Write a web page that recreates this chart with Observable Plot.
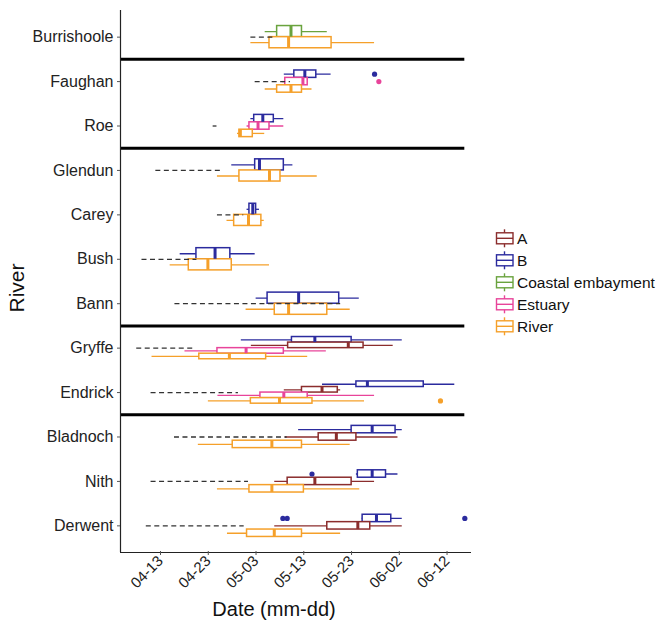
<!DOCTYPE html>
<html><head><meta charset="utf-8">
<script src="https://cdn.jsdelivr.net/npm/d3@7"></script>
<script src="https://cdn.jsdelivr.net/npm/@observablehq/plot@0.6"></script>
<style>
body{margin:0;background:#fff;font-family:"Liberation Sans",Arial,sans-serif;}
#wrap{position:relative;width:659px;height:625px;overflow:hidden;}
#legend{position:absolute;left:488px;top:222px;}
</style></head><body><div id="wrap"><div id="chart"></div><svg id="legend" width="171" height="115"></svg></div>
<script>
// ---- data (dates as day-of-year; 103 = 04-13) ----
const rivers = ["Burrishoole","Faughan","Roe","Glendun","Carey","Bush","Bann","Gryffe","Endrick","Bladnoch","Nith","Derwent"];
const groups = ["A","B","Coastal embayment","Estuary","River"];
const dodgeOrder = ["B","A","Coastal embayment","Estuary","River"];
const groupColors = ["#8B2D2D","#2B2B9E","#6AA33E","#E8449A","#F5A02A"];
// [lower whisker, Q1, median, Q3, upper whisker] per river
const statsA = [null,null,null,null,null,null,null,
  [126.0,133.7,146.3,149.5,155.7],
  [132.9,136.6,140.8,144.1,144.7],
  [133.1,140.1,143.8,148.0,156.7],
  [130.9,133.6,139.3,147.0,151.8],
  [130.9,141.9,148.3,150.9,157.6]];
const statsB = [null,
  [132.9,135.0,137.2,139.6,142.7],
  [125.9,126.6,128.4,130.7,132.8],
  [121.9,126.8,127.7,132.8,134.7],
  [125.1,125.6,126.3,127.0,127.7],
  [111.1,114.5,118.4,121.6,126.8],
  [127.0,129.4,135.9,144.4,148.6],
  [123.9,134.5,139.3,147.0,157.6],
  [140.9,148.0,150.3,162.1,168.6],
  [135.9,147.0,151.3,156.2,157.6],
  [148.0,148.3,151.3,154.2,156.7],
  [149.2,149.3,152.2,155.3,157.6]];
const statsCoastal = [[128.9,131.4,134.3,136.6,141.9],null,null,null,null,null,null,null,null,null,null,null];
const statsEstuary = [null,
  [132.5,133.1,136.8,137.8,137.8],
  [125.1,125.6,127.4,129.8,132.8],
  null,null,null,null,
  [112.1,118.9,124.9,132.8,141.7],
  [119.0,127.9,132.8,137.8,151.8],
  null,null,null];
const statsRiver = [
  [125.9,129.8,133.8,142.8,151.8],
  [128.9,131.4,134.3,136.6,138.7],
  [123.1,123.5,123.7,126.3,128.8],
  [118.9,123.5,129.8,132.1,139.8],
  [120.9,122.4,125.4,128.1,128.7],
  [109.0,112.9,116.9,121.9,129.8],
  [124.9,130.9,133.8,141.9,146.7],
  [105.2,115.1,121.4,129.1,137.8],
  [117.0,125.9,131.9,138.8,149.7],
  [114.9,122.1,130.3,136.6,146.7],
  [118.9,125.6,130.3,137.0,148.7],
  [121.0,125.1,130.8,136.6,144.7]];
const outlierRiver = ["Faughan","Faughan","Endrick","Nith","Derwent","Derwent","Derwent"];
const outlierGroup = ["B","Estuary","River","B","B","B","B"];
const outlierDay = [151.8,152.7,165.6,138.7,132.6,133.5,170.7];
const dashStart = [125.9,126.8,118.0,106.0,118.9,103.1,110.0,102.0,105.0,109.9,105.0,104.0];
const dashEnd   = [130.7,134.2,118.8,119.8,124.4,114.6,144.7,113.9,123.3,133.5,125.4,124.5];
const sectionEnds = ["Burrishoole","Roe","Bann","Endrick"];
const xTicks = [103,113,123,133,143,153,163];
const xDomain = [98.6,172.1];
const separatorEnd = 170.7;

// ---- build tables ----
const statsByGroup = {"A":statsA,"B":statsB,"Coastal embayment":statsCoastal,"Estuary":statsEstuary,"River":statsRiver};
const boxes = [];
rivers.forEach((r,i)=>{
  const present = dodgeOrder.filter(g=>statsByGroup[g][i]);
  const n = present.length;
  present.forEach((g,j)=>{
    const [lo,q1,med,q3,hi] = statsByGroup[g][i];
    const yc = i - 0.25 + (j+0.5)*0.5/n, h = 0.25/n;
    boxes.push({river:r,group:g,lo,q1,med,q3,hi,y:yc,y1:yc-h,y2:yc+h});
  });
});
const outliers = outlierDay.map((d,k)=>{
  const b = boxes.find(b=>b.river===outlierRiver[k] && b.group===outlierGroup[k]);
  return {x:d, y:b.y, group:outlierGroup[k]};
});
const dashes = rivers.map((r,i)=>({y:i,x1:dashStart[i],x2:dashEnd[i]}));
const seps = sectionEnds.map(r=>({y:rivers.indexOf(r)+0.5}));
const fmt = d => d3.utcFormat("%m-%d")(new Date(Date.UTC(2021,0,d)));

const plot = Plot.plot({
  width:488, height:625,
  marginLeft:120, marginRight:17, marginTop:10, marginBottom:73,
  x:{domain:xDomain, range:[120,471]},
  y:{domain:[-0.6,11.6], range:[10,552]},
  color:{domain:groups, range:groupColors},
  style:{fontFamily:"'Liberation Sans', Arial, sans-serif", background:"white", color:"#222", overflow:"visible"},
  marks:[
    Plot.ruleY(seps,{y:"y", x1:xDomain[0], x2:separatorEnd, stroke:"black", strokeWidth:3}),
    Plot.ruleY(boxes,{y:"y", x1:"lo", x2:"hi", stroke:"group", strokeWidth:1.3}),
    Plot.rect(boxes,{x1:"q1", x2:"q3", y1:"y1", y2:"y2", fill:"white", stroke:"group", strokeWidth:1.5}),
    Plot.ruleX(boxes,{x:"med", y1:"y1", y2:"y2", stroke:"group", strokeWidth:3}),
    Plot.ruleY(dashes,{y:"y", x1:"x1", x2:"x2", stroke:"#333", strokeWidth:1.3, strokeDasharray:"5,3.5"}),
    Plot.dot(outliers,{x:"x", y:"y", fill:"group", r:2.6}),
    Plot.ruleX([xDomain[0]],{y1:-0.6, y2:11.6, stroke:"#222", strokeWidth:1.2}),
    Plot.ruleY([11.6],{x1:xDomain[0], x2:xDomain[1], stroke:"#222", strokeWidth:1.2}),
    Plot.axisY({ticks:d3.range(rivers.length), tickFormat:i=>rivers[i], tickSize:3, tickPadding:4, fontSize:16, label:null, stroke:"#555"}),
    Plot.axisX({ticks:xTicks, tickFormat:fmt, tickSize:4, tickPadding:3, tickRotate:-45, fontSize:15, label:null, dx:19, dy:-1, stroke:"#555"})
  ]
});
const svg = d3.select(plot);
svg.append("text").attr("x",274).attr("y",616).attr("text-anchor","middle")
  .attr("font-size",20).attr("fill","#111").text("Date (mm-dd)");
svg.append("text").attr("transform","translate(24,288) rotate(-90)").attr("text-anchor","middle")
  .attr("font-size",21).attr("fill","#111").text("River");
document.getElementById("chart").appendChild(plot);

// ---- legend ----
const lg = d3.select("#legend");
const color = plot.scale("color");
groups.forEach((g,k)=>{
  const cy = 16.3 + k*22, c = groupColors[color.domain.indexOf(g)];
  const G = lg.append("g").attr("stroke",c).attr("fill","none").attr("stroke-width",1.4);
  G.append("line").attr("x1",16.5).attr("x2",16.5).attr("y1",cy-9).attr("y2",cy+9);
  G.append("rect").attr("x",8.5).attr("y",cy-5.5).attr("width",16.5).attr("height",11).attr("fill","white");
  G.append("line").attr("x1",8.5).attr("x2",25).attr("y1",cy).attr("y2",cy);
  lg.append("text").attr("x",29).attr("y",cy).attr("dy","0.36em").attr("font-size",15.5)
    .attr("fill","#111").text(g);
});
</script></body></html>
